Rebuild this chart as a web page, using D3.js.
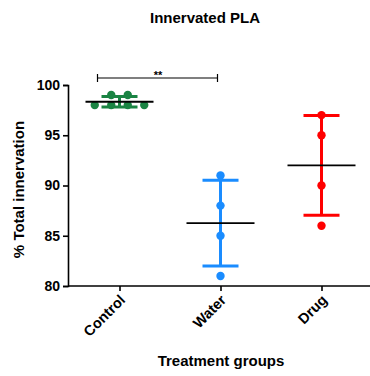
<!DOCTYPE html>
<html>
<head>
<meta charset="utf-8">
<script src="https://cdn.jsdelivr.net/npm/d3@7"></script>
<style>
  body { margin: 0; background: #fff; }
  text { font-family: "Liberation Sans", Arial, sans-serif; font-weight: bold; }
</style>
</head>
<body>
<div id="chart"></div>
<script>
//data
const groups = ['Control', 'Water', 'Drug'];
const colors = ['#1a8443', '#1a8cff', '#ff0000'];
const control_vals = [98, 98, 98, 98, 99, 99];
const water_vals = [91, 88, 85, 81];
const drug_vals = [97, 95, 90, 86];
const y_ticks = [80, 85, 90, 95, 100];

const values = [control_vals, water_vals, drug_vals];

const width = 370, height = 376;
const margin = {top: 85, right: 0, bottom: 90, left: 68};

const svg = d3.select('#chart')
    .append('svg')
    .attr('width', width)
    .attr('height', height);

//scales
const x = d3.scalePoint()
    .domain(groups)
    .range([margin.left + 1, width + 2])
    .padding(0.5);

const y = d3.scaleLinear()
    .domain([80, 100])
    .range([height - margin.bottom, margin.top]);

//title
svg.append('text')
    .attr('x', 205)
    .attr('y', 23)
    .attr('text-anchor', 'middle')
    .style('font-size', '15px')
    .text('Innervated PLA');

//y axis
const yAxis = svg.append('g')
    .attr('transform', `translate(${margin.left}, 0)`)
    .call(d3.axisLeft(y).tickValues(y_ticks).tickSize(5).tickPadding(3));
yAxis.select('.domain').attr('stroke-width', 1.6);
yAxis.selectAll('.tick line').attr('stroke-width', 1.6);
yAxis.selectAll('.tick text')
    .style('font-size', '14px')
    .style('font-family', '"Liberation Sans", Arial, sans-serif')
    .style('font-weight', 'bold')
    .attr('fill', '#000');

//x axis
const xAxis = svg.append('g')
    .attr('transform', `translate(0, ${y(80)})`)
    .call(d3.axisBottom(x).tickSize(5).tickSizeOuter(0));
xAxis.select('.domain')
    .attr('d', `M${margin.left},0H${width}`)
    .attr('stroke-width', 1.6);
xAxis.selectAll('.tick line').attr('stroke-width', 1.6);
xAxis.selectAll('.tick text')
    .style('font-size', '14.5px')
    .style('font-family', '"Liberation Sans", Arial, sans-serif')
    .style('font-weight', 'bold')
    .attr('fill', '#000')
    .attr('text-anchor', 'end')
    .attr('dy', null)
    .attr('y', 0)
    .attr('transform', 'translate(6, 15) rotate(-45)');

//axis titles
svg.append('text')
    .attr('transform', `translate(24, ${y(89.6)}) rotate(-90)`)
    .attr('text-anchor', 'middle')
    .style('font-size', '15px')
    .text('% Total innervation');

svg.append('text')
    .attr('x', 221)
    .attr('y', 366)
    .attr('text-anchor', 'middle')
    .style('font-size', '15px')
    .text('Treatment groups');

//significance bar between control and water
const sig_y = 78;
const sig = svg.append('g').attr('stroke', '#000').attr('stroke-width', 1.2);
sig.append('line')
    .attr('x1', x('Control') - 22).attr('x2', x('Water') - 3)
    .attr('y1', sig_y).attr('y2', sig_y);
[x('Control') - 22, x('Water') - 3].forEach(function(px) {
    sig.append('line')
        .attr('x1', px).attr('x2', px)
        .attr('y1', sig_y - 4).attr('y2', sig_y + 4);
});
svg.append('text')
    .attr('x', 158)
    .attr('y', sig_y + 1)
    .attr('text-anchor', 'middle')
    .style('font-size', '11px')
    .text('**');

//draw each group: sd bar, caps, points, mean
const spread = 16.5;
groups.forEach(function(g, i) {
    const vals = values[i];
    const cx = x(g);
    const mean = d3.mean(vals);
    const sd = d3.deviation(vals);
    const col = colors[i];
    const grp = svg.append('g');

    grp.append('line')
        .attr('x1', cx).attr('x2', cx)
        .attr('y1', y(mean + sd)).attr('y2', y(mean - sd))
        .attr('stroke', col).attr('stroke-width', 3);
    [mean + sd, mean - sd].forEach(function(v) {
        grp.append('line')
            .attr('x1', cx - 18).attr('x2', cx + 18)
            .attr('y1', y(v)).attr('y2', y(v))
            .attr('stroke', col).attr('stroke-width', 3);
    });

    //spread points with equal values side by side
    const counts = d3.rollup(vals, v => v.length, d => d);
    const seen = new Map();
    const pts = vals.map(function(v) {
        const n = counts.get(v);
        const k = seen.get(v) || 0;
        seen.set(v, k + 1);
        return {v: v, dx: (k - (n - 1) / 2) * spread};
    });

    grp.selectAll('circle')
        .data(pts)
        .enter().append('circle')
        .attr('cx', d => cx + d.dx)
        .attr('cy', d => y(d.v))
        .attr('r', 4.2)
        .attr('fill', col);

    grp.append('line')
        .attr('x1', cx - 34).attr('x2', cx + 34)
        .attr('y1', y(mean)).attr('y2', y(mean))
        .attr('stroke', '#000').attr('stroke-width', 1.8);
});
</script>
</body>
</html>
